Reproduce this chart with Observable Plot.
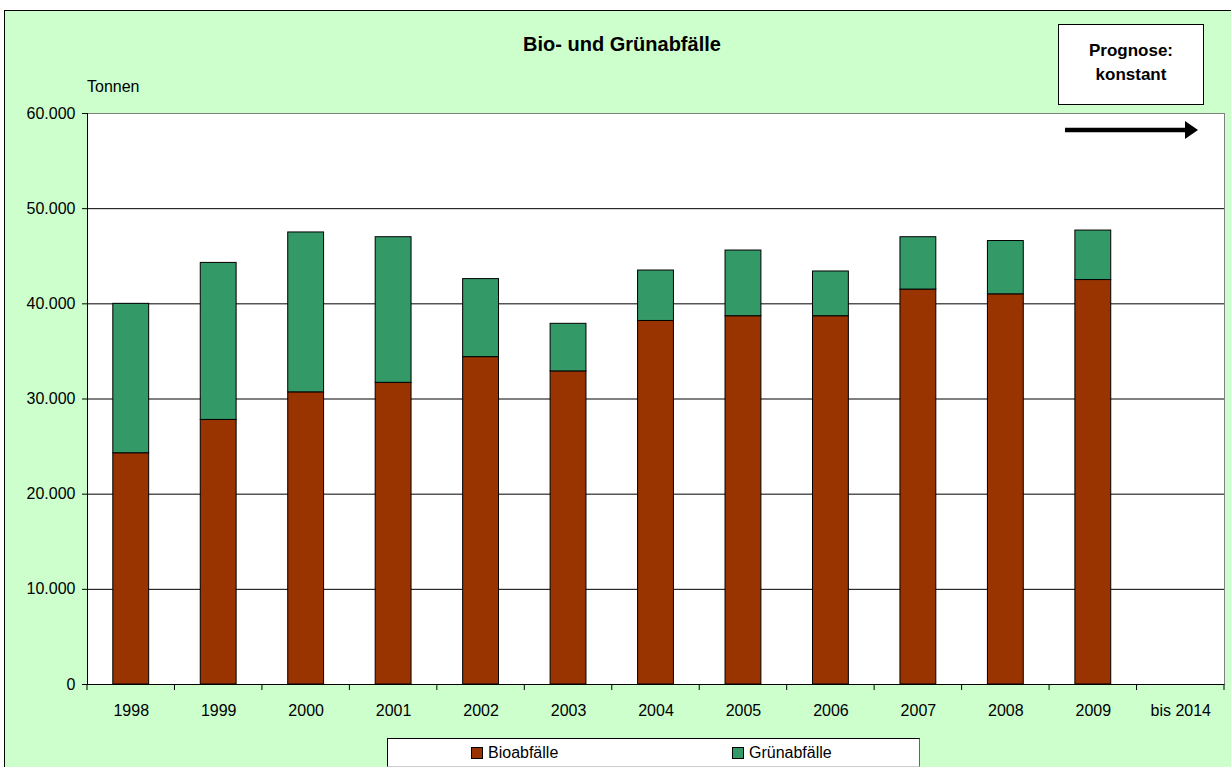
<!DOCTYPE html>
<html><head><meta charset="utf-8">
<script src="https://cdn.jsdelivr.net/npm/d3@7"></script>
<script src="https://cdn.jsdelivr.net/npm/@observablehq/plot@0.6"></script>
<style>
html,body{margin:0;padding:0;width:1231px;height:767px;overflow:hidden;background:#fff;font-family:"Liberation Sans",Arial,sans-serif;}
#frame{position:absolute;left:4px;top:10px;width:1240px;height:770px;background:#CCFFCC;border:1px solid #000;}
#chart{position:absolute;left:0;top:0;}
#legend{position:absolute;left:387px;top:738px;width:531px;height:27px;background:#fff;border:1px solid #000;border-right-color:#666;border-bottom-color:#ccc;font-size:16px;}
.item{position:absolute;top:5px;display:flex;align-items:center;height:18px;}
.sw{width:10px;height:10px;border:1px solid #000;margin-right:5px;}
#over{position:absolute;left:0;top:0;pointer-events:none;}
#over text{font-family:"Liberation Sans",Arial,sans-serif;fill:#000;}
</style></head>
<body>
<div id="frame"></div>
<div id="chart"></div>
<div id="legend"></div>
<svg id="over" width="1231" height="767">
  <text x="622" y="51" text-anchor="middle" font-weight="bold" font-size="20">Bio- und Grünabfälle</text>
  <text x="87" y="92" font-size="16">Tonnen</text>
  <rect x="1058.5" y="24.5" width="145" height="80" fill="#fff" stroke="#000"/>
  <text x="1131" y="56" text-anchor="middle" font-weight="bold" font-size="17">Prognose:</text>
  <text x="1131" y="80" text-anchor="middle" font-weight="bold" font-size="17">konstant</text>
  <line x1="1065" y1="130" x2="1186" y2="130" stroke="#000" stroke-width="4.5"/>
  <polygon points="1185,121 1198,130 1185,139" fill="#000"/>
</svg>
<script>
const years = ["1998","1999","2000","2001","2002","2003","2004","2005","2006","2007","2008","2009","bis 2014"];
const bio   = [24300,27800,30700,31700,34400,32900,38200,38700,38700,41500,41000,42500,null];
const gruen = [15700,16500,16800,15300,8200,5000,5300,6900,4700,5500,5600,5200,null];
const seriesNames = ["Bioabfälle","Grünabfälle"];
const seriesColors = ["#993300","#339966"];
const yTicks = [0,10000,20000,30000,40000,50000,60000];

const rows = [];
years.forEach((y,i)=>{
  if (bio[i] != null) rows.push({year:y, serie:seriesNames[0], value:bio[i]});
  if (gruen[i] != null) rows.push({year:y, serie:seriesNames[1], value:gruen[i]});
});
const fmt = d => d===0 ? "0" : d3.format(",")(d).replace(/,/g,".");

const W=1231,H=767,mL=87,mR=7,mT=113,mB=83;
const plot = Plot.plot({
  width:W, height:H, marginLeft:mL, marginRight:mR, marginTop:mT, marginBottom:mB,
  style:{background:"transparent", fontFamily:"'Liberation Sans', Arial, sans-serif", fontSize:"16px", color:"#000"},
  x:{domain:years, paddingInner:0.59, paddingOuter:0.295, round:false, label:null},
  y:{domain:[0,60000], label:null},
  color:{domain:seriesNames, range:seriesColors},
  marks:[
    Plot.frame({fill:"white", stroke:"#808080"}),
    Plot.ruleY(yTicks.filter(d=>d>0 && d<60000), {stroke:"#000", strokeWidth:1}),
    Plot.barY(rows, Plot.stackY({x:"year", y:"value", fill:"serie", order:seriesNames, stroke:"#000", strokeWidth:1})),
    Plot.axisY({ticks:yTicks, tickFormat:fmt, tickSize:5, tickPadding:7, fontSize:16, label:null}),
    Plot.axisX({tickSize:0, tickPadding:20, fontSize:16, label:null}),
    Plot.ruleY([0], {stroke:"#000"})
  ]
});
document.getElementById("chart").appendChild(plot);

// category boundary ticks and left axis line from the library's scales
const xs = plot.scale("x"), ys = plot.scale("y");
const svg = d3.select(plot);
const step = xs.step;
const y0 = ys.apply(0), yTop = ys.apply(60000);
const g = svg.append("g").attr("stroke","#000").attr("stroke-width",1);
const bounds = years.map(y => xs.apply(y) - (step - xs.bandwidth)/2);
bounds.push(bounds[bounds.length-1] + step);
bounds.forEach(b => g.append("line").attr("x1",b).attr("x2",b).attr("y1",y0).attr("y2",y0+6));
g.append("line").attr("x1",mL+0.5).attr("x2",mL+0.5).attr("y1",yTop).attr("y2",y0);

// legend
const leg = document.getElementById("legend");
const lx = [83, 344];
seriesNames.forEach((n,i)=>{
  const it = document.createElement("div");
  it.className="item"; it.style.left = lx[i]+"px";
  it.innerHTML = `<span class="sw" style="background:${seriesColors[i]}"></span><span>${n}</span>`;
  leg.appendChild(it);
});
</script>
</body></html>
